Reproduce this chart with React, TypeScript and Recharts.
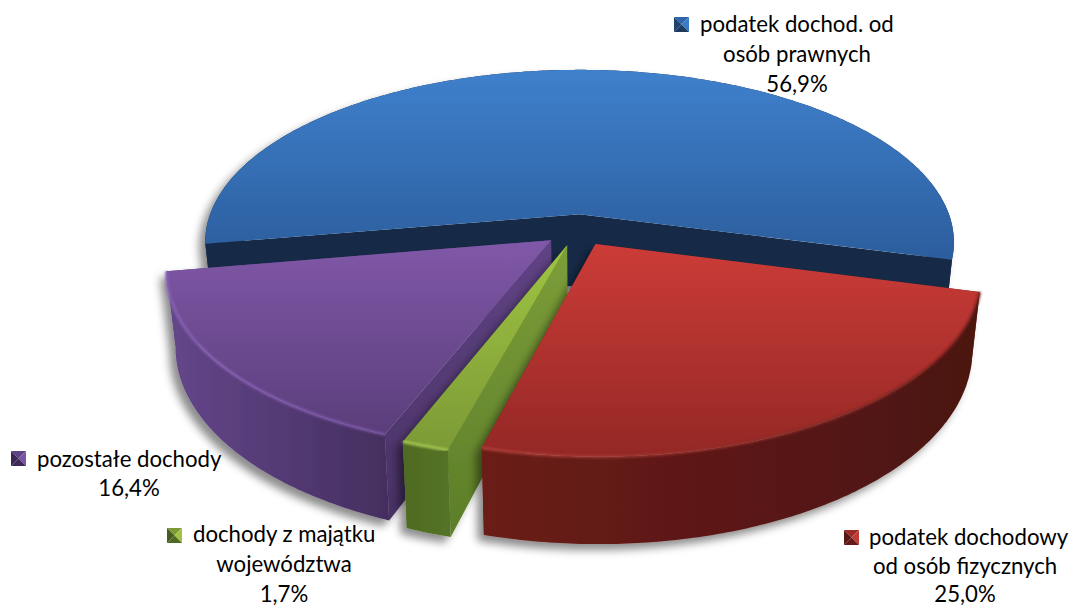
import React from "react";
import { PieChart, Pie } from "recharts";

const CATEGORIES = ["podatek dochod. od osób prawnych", "pozostałe dochody", "dochody z majątku województwa", "podatek dochodowy od osób fizycznych"];
const VALUES = [56.9, 16.4, 1.7, 25.0];
const PERCENT_LABELS = ["56,9%", "16,4%", "1,7%", "25,0%"];
const NAME_LINES = [
  ["podatek dochod. od", "osób prawnych"],
  ["pozostałe dochody"],
  ["dochody z majątku", "województwa"],
  ["podatek dochodowy", "od osób fizycznych"],
];

const data = CATEGORIES.map((name, i) => ({ name, value: VALUES[i] }));

// Style tables, one row per slice
const STYLES = [
  { topA: "#3f80cc", topB: "#2b5d9c", rimA: "#3f80cc", rimB: "#2b5d9c", rimW: 0, wallA: "#142b46", wallB: "#142b46", cutA: "#142b46", cutB: "#142b46", y0: 72, y1: 262, x0: 200, x1: 960, mk: ["#3a7bc8", "#2f66a8", "#1d3a5e", "#1f4470"] },
  { topA: "#8058a8", topB: "#5a3d7a", rimA: "#8c64b8", rimB: "#7a55a5", rimW: 3, wallA: "#64468a", wallB: "#432e5e", cutA: "#604385", cutB: "#4a3366", y0: 240, y1: 437, x0: 170, x1: 395, mk: ["#7a55a3", "#5f4285", "#3e2a58", "#3a2852"] },
  { topA: "#9fc442", topB: "#7c9a36", rimA: "#a9cc55", rimB: "#a9cc55", rimW: 3, wallA: "#4f6b23", wallB: "#557426", cutA: "#7d9e39", cutB: "#5f802a", y0: 245, y1: 450, x0: 405, x1: 455, mk: ["#9fc442", "#7c9a36", "#4f6b23", "#445c20"] },
  { topA: "#cc3c38", topB: "#952825", rimA: "#b2413c", rimB: "#6a1f1b", rimW: 3, wallA: "#6b1c18", wallB: "#4b1411", cutA: "#7a201c", cutB: "#5a1714", y0: 243, y1: 452, x0: 482, x1: 980, mk: ["#c23a36", "#9c2a27", "#661a17", "#571714"] },
];

// Anchors of the free-standing labels: marker corner, first line, block centre, baselines
const LABEL_LAYOUT = [
  { mx: 674, my: 17, tx: 700, cx: 797, ys: [32, 62, 92] },
  { mx: 11, my: 451, tx: 37, cx: 129, ys: [467, 496] },
  { mx: 167, my: 528, tx: 193, cx: 284, ys: [542, 572, 602] },
  { mx: 844, my: 530, tx: 869, cx: 965, ys: [545, 574, 602] },
];

const FONT = "Lato, 'Open Sans', sans-serif";
const RAD = Math.PI / 180;
const K = 0.1635; // perspective strength
const SQUASH = 0.461; // vertical squash of the disc
const EXPLODE = 0.092;
const DEPTH = 72;
const BOTTOM_SCALE = 0.978;

function PieSlice(props: any) {
  const { cx, cy, outerRadius: R, startAngle, endAngle, index } = props;
  const st = STYLES[index] ?? STYLES[0];
  const mid = ((startAngle + endAngle) / 2) * RAD;
  const ox = EXPLODE * Math.cos(mid);
  const oy = -EXPLODE * Math.sin(mid);
  const proj = (u: number, v: number, low: boolean): [number, number] => {
    const s = 1 / (1 - K * v);
    let x = R * u * s;
    let y = R * SQUASH * v * s;
    if (low) {
      x *= BOTTOM_SCALE;
      y += DEPTH * s;
    }
    return [cx + x, cy + y];
  };
  const rim = (deg: number, low: boolean) => proj(ox + Math.cos(deg * RAD), oy - Math.sin(deg * RAD), low);
  const apexT = proj(ox, oy, false);
  const apexB = proj(ox, oy, true);
  const steps = Math.max(6, Math.round(Math.abs(endAngle - startAngle) * 1.5));
  const arcT: [number, number][] = [];
  const arcB: [number, number][] = [];
  for (let i = 0; i <= steps; i++) {
    const a = startAngle + ((endAngle - startAngle) * i) / steps;
    arcT.push(rim(a, false));
    arcB.push(rim(a, true));
  }
  const d = (pts: [number, number][]) => "M" + pts.map((p) => p[0].toFixed(1) + " " + p[1].toFixed(1)).join("L") + "Z";
  const line = (pts: [number, number][]) => "M" + pts.map((p) => p[0].toFixed(1) + " " + p[1].toFixed(1)).join("L");
  const id = "slice" + index;
  const reflex = Math.abs(endAngle - startAngle) > 180;
  return (
    <g>
      <defs>
        <linearGradient id={id + "t"} gradientUnits="userSpaceOnUse" x1="0" x2="0" y1={st.y0} y2={st.y1}>
          <stop offset="0" stopColor={st.topA} />
          <stop offset="1" stopColor={st.topB} />
        </linearGradient>
        <linearGradient id={id + "w"} gradientUnits="userSpaceOnUse" x1={st.x0} x2={st.x1} y1="0" y2="0">
          <stop offset="0" stopColor={st.wallA} />
          <stop offset="1" stopColor={st.wallB} />
        </linearGradient>
        <linearGradient id={id + "r"} gradientUnits="userSpaceOnUse" x1={st.x0} x2={st.x1} y1="0" y2="0">
          <stop offset="0" stopColor={st.rimA} />
          <stop offset="1" stopColor={st.rimB} />
        </linearGradient>
        <linearGradient id={id + "c"} gradientUnits="userSpaceOnUse" x1="0" x2="0" y1={st.y0} y2={st.y1 + 60}>
          <stop offset="0" stopColor={st.cutA} />
          <stop offset="1" stopColor={st.cutB} />
        </linearGradient>
        <filter id={id + "s"} x="-20%" y="-20%" width="140%" height="140%">
          <feDropShadow dx="-6" dy="6" stdDeviation="4" floodColor="#000" floodOpacity="0.45" />
        </filter>
        <filter id={id + "b"} x="-10%" y="-10%" width="120%" height="120%">
          <feGaussianBlur stdDeviation="0.9" />
        </filter>
      </defs>
      <g filter={`url(#${id}s)`}>
        {reflex ? (
          <path d={d([apexT, arcT[0], arcB[0], apexB, arcB[steps], arcT[steps]])} fill={`url(#${id}c)`} />
        ) : (
          <>
            <path d={d([apexT, arcT[0], arcB[0], apexB])} fill={`url(#${id}c)`} />
            <path d={d([apexT, arcT[steps], arcB[steps], apexB])} fill={`url(#${id}c)`} />
          </>
        )}
        <path d={d([...arcT, ...[...arcB].reverse()])} fill={`url(#${id}w)`} />
      </g>
      <path d={d([apexT, ...arcT])} fill={`url(#${id}t)`} />
      {st.rimW > 0 && (
        <path d={line(arcT)} fill="none" stroke={`url(#${id}r)`} strokeWidth={st.rimW} strokeOpacity={0.85} filter={`url(#${id}b)`} />
      )}
    </g>
  );
}

function SliceLabel(props: any) {
  const i = props.index;
  const lay = LABEL_LAYOUT[i];
  const mk = STYLES[i].mk;
  const names = NAME_LINES[i];
  const { mx, my } = lay;
  const n = 15;
  const c = [mx + n / 2, my + n / 2];
  const tri = (a: number[], b: number[], fill: string) => (
    <polygon points={`${a[0]},${a[1]} ${b[0]},${b[1]} ${c[0]},${c[1]}`} fill={fill} />
  );
  const tl = [mx, my], tr = [mx + n, my], br = [mx + n, my + n], bl = [mx, my + n];
  const ts = { fontFamily: FONT, fontSize: 22.2, fill: "#000" };
  return (
    <g>
      {tri(tl, tr, mk[1])}
      {tri(tr, br, mk[0])}
      {tri(br, bl, mk[2])}
      {tri(bl, tl, mk[3])}
      {names.map((t, k) => (
        <text key={k} x={k === 0 ? lay.tx : lay.cx} y={lay.ys[k]} textAnchor={k === 0 ? "start" : "middle"} {...ts}>
          {t}
        </text>
      ))}
      <text x={lay.cx} y={lay.ys[names.length]} textAnchor="middle" {...ts}>
        {PERCENT_LABELS[i]}
      </text>
    </g>
  );
}

export default function App() {
  return (
    <div style={{ position: "absolute", left: 0, top: 0, width: 1071, height: 606 }}>
      <PieChart width={1071} height={606} margin={{ top: 0, right: 0, bottom: 0, left: 0 }}>
        <Pie
          data={data}
          dataKey="value"
          nameKey="name"
          cx={578}
          cy={230}
          innerRadius={0}
          outerRadius={375}
          startAngle={-15}
          endAngle={345}
          stroke="none"
          shape={PieSlice}
          label={SliceLabel}
          labelLine={false}
          isAnimationActive={false}
        />
      </PieChart>
    </div>
  );
}
